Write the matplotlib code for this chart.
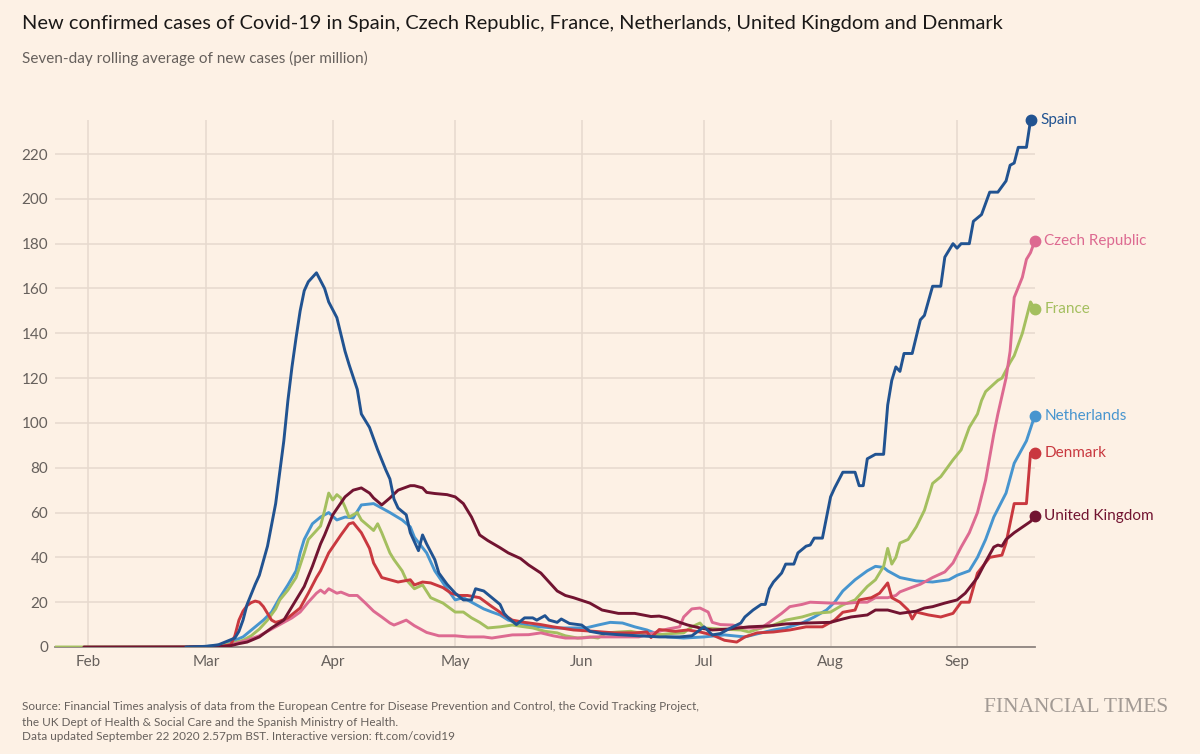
import matplotlib
matplotlib.use("Agg")
import matplotlib.pyplot as plt
import pandas as pd

# ---------------- data (7-day avg new cases per million) ----------------
spain_dates = ["02-25","03-01","03-04","03-06","03-08","03-09","03-10","03-11","03-13","03-14","03-16","03-18","03-20","03-21","03-22","03-23","03-24","03-25","03-26","03-28","03-30","03-31",
               "04-02","04-04","04-05","04-07","04-08","04-10","04-12","04-14","04-15","04-16","04-17","04-19","04-20","04-22","04-23","04-24","04-26","04-27","04-29",
               "05-01","05-03","05-05","05-06","05-08","05-10","05-12","05-13","05-14","05-16","05-18","05-20","05-21","05-23","05-24","05-26","05-27","05-29",
               "06-01","06-03","06-06","06-10","06-15","06-20","06-25","06-28","07-01","07-03","07-05","07-07","07-10","07-11","07-13","07-15","07-16","07-17","07-18",
               "07-20","07-21","07-23","07-24","07-26","07-27","07-28","07-30","08-01","08-02","08-04","08-07","08-08","08-09","08-10","08-12","08-14","08-15","08-16",
               "08-17","08-18","08-19","08-21","08-23","08-24","08-26","08-28","08-29","08-31","09-01","09-02","09-04","09-05","09-07","09-09","09-11","09-13","09-14",
               "09-15","09-16","09-18","09-19"]
spain_values = [0,0.3,1,2.5,4,7,12,19,28,32,45,64,92,110,125,138,150,159,163,167,160,154,
                147,132,126,115,104,98,88,79,75,66,62,59,51,43,50,46,39,33,28,
                24,21,21,26,25,22,19,15,13,10,13,13,12,14,12,11,12.5,10.5,
                9.8,7,6,5.5,5,4.5,4.5,5,9,5.4,6,8,10.7,13.4,16.5,19,19,26,29,
                33,37,37,42,45,45.5,48.6,48.6,67,71,78,78,72,72,84,86,86,108,119,
                125,123,131,131,146,148,161,161,174,180,178,180,180,190,193,203,203,208,215,
                216,223,223,235]

czech_dates = ["03-01","03-05","03-08","03-11","03-14","03-16","03-18","03-20","03-22","03-24","03-26","03-28","03-29","03-30","03-31",
               "04-01","04-02","04-03","04-05","04-07","04-09","04-11","04-13","04-15","04-16","04-17","04-19","04-21","04-24","04-27",
               "05-01","05-04","05-08","05-10","05-15","05-19","05-22","05-25","05-28","06-01","06-04","06-08","06-12","06-15","06-18",
               "06-22","06-25","06-26","06-28","06-30","07-02","07-03","07-05","07-08","07-11","07-15","07-17","07-20","07-22","07-25",
               "07-27","08-01","08-05","08-08","08-10","08-12","08-15","08-17","08-18","08-20","08-23","08-26","08-29","08-31",
               "09-02","09-04","09-06","09-08","09-10","09-11","09-13","09-14","09-15","09-17","09-18","09-19","09-20"]
czech_values = [0,0.3,1.5,3,5,7,9,11,13,15.6,20,24,25.4,24,26,
                25,24,24.5,23,23,19.6,16,13.4,10.7,9.8,10.5,12,9.5,6.5,5,
                5,4.5,4.5,4,5.4,5.5,6.3,5,4,4,4.5,4.5,4.5,4.5,6,
                8,9,13.4,17,17.4,15.6,11,10,9.8,8.5,8.5,11,15,18,19,
                20,19.6,19.5,20,20,22,22,23,24.6,26,28,31,33.5,37.5,
                44.6,51,60,74.5,95,104,120,132,156,165,173,176,181]

france_dates = ["01-24","02-25","03-01","03-04","03-07","03-10","03-12","03-14","03-16","03-18","03-19","03-21","03-23","03-25","03-26","03-28","03-29","03-30","03-31",
                "04-01","04-02","04-03","04-04","04-05","04-07","04-08","04-10","04-11","04-12","04-13","04-15","04-16","04-18","04-19","04-21","04-23","04-25","04-28",
                "05-01","05-03","05-05","05-07","05-09","05-12","05-15","05-18","05-20","05-23","05-26","05-28","05-31","06-03","06-05","06-07","06-10","06-13","06-16",
                "06-20","06-23","06-26","06-28","06-30","07-01","07-05","07-10","07-12","07-15","07-18","07-21","07-25","07-28","08-01","08-04","08-07","08-09","08-10",
                "08-12","08-14","08-15","08-16","08-17","08-18","08-20","08-22","08-24","08-26","08-28","08-31","09-02","09-04","09-06","09-07","09-08","09-11","09-12",
                "09-14","09-15","09-17","09-19","09-20"]
france_values = [0,0,0.2,0.5,1.5,3,5,8,12,17,21,25.4,31,42,48,52,54,61,68.7,
                 65.6,68,66.5,62.5,58,60,56.7,53.6,52,55,51,42,39,34,30,26,27.7,22,19.6,
                 15.6,15.6,13,11,8.5,9,9.8,9,8.5,7,6.3,5,4,4.5,4,6.3,6.7,7,6,
                 5.5,6,6.3,9,10.7,8.5,8,7.6,6.7,8.5,9.8,12,13.4,15,15.6,18.8,21,25,27,
                 30,36,44,37,40,46.4,48,53.6,61,73,76,83.5,88,98,104,110,114,119,120,
                 127,130,140,154,151]

neth_dates = ["02-27","03-03","03-06","03-08","03-10","03-13","03-15","03-17","03-19","03-21","03-23","03-24","03-25","03-27","03-29","03-31",
              "04-02","04-04","04-06","04-08","04-11","04-13","04-15","04-18","04-20","04-21","04-24","04-26","04-29",
              "05-01","05-03","05-05","05-08","05-10","05-12","05-14","05-17","05-19","05-22","05-25","05-28","06-02","06-05","06-08","06-11",
              "06-14","06-17","06-20","06-22","06-26","07-01","07-06","07-11","07-15","07-18","07-21","07-25","07-28","07-31",
              "08-02","08-04","08-07","08-10","08-12","08-14","08-15","08-18","08-22","08-26","08-30","09-01","09-04","09-06","09-08",
              "09-10","09-13","09-15","09-18","09-20"]
neth_values = [0,0.5,1.5,3,4.5,9,12,15.6,22,27.7,34,42,48,55,58,60,
               56.7,58,57.6,63.4,64,62,60,56.7,53.6,49,42,34,26,
               21,22,20,17,15.6,14.3,12,10.5,9.5,9,8.5,8.5,8.5,9.8,11,10.7,
               9,7.6,5.5,4.5,4,4.5,5.4,4.5,6.3,7.6,8.5,10.7,13.4,16.5,
               20,25,30,34,36,35.5,34,31,29.5,29,30,32,34,40,48,
               58,68.7,82,92,103]

denmark_dates = ["02-26","03-05","03-07","03-08","03-09","03-10","03-11","03-12","03-13","03-14","03-15","03-16","03-17","03-18","03-19","03-21","03-24","03-26","03-28","03-29","03-31",
                 "04-03","04-05","04-06","04-08","04-10","04-11","04-13","04-15","04-17","04-20","04-21","04-23","04-25","04-28","04-30",
                 "05-02","05-04","05-07","05-10","05-13","05-15","05-18","05-22","05-25","05-30","06-04","06-09","06-14","06-17","06-18","06-20",
                 "06-24","06-27","06-30","07-03","07-06","07-09","07-11","07-14","07-18","07-22","07-26","07-30","08-02","08-04","08-07","08-08",
                 "08-11","08-13","08-15","08-16","08-18","08-20","08-21","08-22","08-25","08-28","08-31","09-02","09-04","09-06","09-09","09-12",
                 "09-13","09-15","09-18","09-19","09-20"]
denmark_values = [0,0.3,1,5,12,16,18.5,19.8,20.5,20,18,15,12,11,11.5,13,17.4,24,31,34,42,
                  50,55,55.5,51,44,37.5,31,30,29,30,27.7,29,28.6,26.5,24,
                  23,23,22,18,14.3,12,11,10,9,7.6,7,6.3,6.3,6.7,4.2,7.8,
                  7,7.6,6.7,5.4,3,2.2,4.5,6.3,6.7,7.6,9,9,12,15.5,16.5,21,
                  22,24,28.6,22,20,16.5,12.5,15.6,14.3,13.4,15,20,20,33,40,41,
                  46.4,64,64,86.6,86.6]

uk_dates = ["01-31","03-01","03-05","03-07","03-09","03-11","03-14","03-17","03-20","03-22","03-25","03-27","03-29","03-30",
            "04-01","04-04","04-06","04-08","04-10","04-11","04-13","04-15","04-17","04-20","04-21","04-23","04-24","04-26","04-29",
            "05-01","05-03","05-05","05-07","05-09","05-12","05-14","05-17","05-19","05-22","05-23","05-26","05-28","05-30",
            "06-03","06-06","06-10","06-14","06-18","06-20","06-22","06-25","06-27","06-30","07-03","07-07","07-12","07-17","07-21","07-26",
            "08-01","08-04","08-06","08-10","08-12","08-15","08-18","08-22","08-24","08-26","08-29","09-01","09-03","09-06","09-08",
            "09-10","09-11","09-12","09-13","09-15","09-17","09-19","09-20"]
uk_values = [0,0.1,0.3,0.6,1.5,2.2,4.5,8.5,12,18,27,36,46,50,
             59,67,70,71,68.7,66.5,63.4,66.5,70,72,72,71,69,68.5,68,
             67,64,58,50,47.5,44.3,42,39.5,36.6,33,31,25,23,22,
             19.6,16.5,15,15,13.6,13.8,13,11,9.8,8.5,7.6,8,9,9.4,10.3,10.7,
             11,12.5,13.4,14.3,16.5,16.5,15,16,17.4,18,19.6,21,24,31,38,
             44.6,45.5,45,48,51,53.5,56,58.5]

series_names = ["Netherlands", "France", "Czech Republic", "Denmark", "United Kingdom", "Spain"]
y_ticks = list(range(0, 221, 20))
month_ticks = ["2020-02-01","2020-03-01","2020-04-01","2020-05-01","2020-06-01","2020-07-01","2020-08-01","2020-09-01"]
month_labels = ["Feb","Mar","Apr","May","Jun","Jul","Aug","Sep"]

title = "New confirmed cases of Covid-19 in Spain, Czech Republic, France, Netherlands, United Kingdom and Denmark"
subtitle = "Seven-day rolling average of new cases (per million)"
source_lines = ["Source: Financial Times analysis of data from the European Centre for Disease Prevention and Control, the Covid Tracking Project,",
                "the UK Dept of Health & Social Care and the Spanish Ministry of Health.",
                "Data updated September 22 2020 2.57pm BST. Interactive version: ft.com/covid19"]

# ---------------- styling ----------------
BG = "#FDF1E5"
GRID = "#E6D9CE"
GREY = "#66605C"
FONT = "Lato"

colors = {"Spain": "#215391", "Czech Republic": "#DD6A91", "France": "#A4BF5F",
          "Netherlands": "#4795CF", "Denmark": "#C9383F", "United Kingdom": "#721431"}

data = {
    "Spain": (spain_dates, spain_values),
    "Czech Republic": (czech_dates, czech_values),
    "France": (france_dates, france_values),
    "Netherlands": (neth_dates, neth_values),
    "Denmark": (denmark_dates, denmark_values),
    "United Kingdom": (uk_dates, uk_values),
}

def to_dt(md):
    return pd.to_datetime(["2020-" + s for s in md])

W, H = 1200, 754
fig = plt.figure(figsize=(W / 100, H / 100), dpi=100, facecolor=BG)
ax = fig.add_axes([55 / W, 1 - 647 / H, (1035 - 55) / W, (647 - 120) / H])
ax.set_facecolor(BG)

for name in series_names:
    d, v = data[name]
    dt = to_dt(d)
    c = colors[name]
    ax.plot(dt, v, color=c, lw=2.1, solid_joinstyle="round", solid_capstyle="round", zorder=3)
    ax.plot(dt[-1:], v[-1:], "o", color=c, ms=7.5, zorder=4, clip_on=False)
    ax.annotate(name, (dt[-1], v[-1]), xytext=(7, 0), textcoords="offset points",
                va="center", ha="left", color=c, fontsize=11, family=FONT,
                annotation_clip=False)

x0 = pd.Timestamp("2020-02-01") - pd.Timedelta(days=8.08)
x1 = pd.Timestamp("2020-09-20") + pd.Timedelta(days=0.1)
ax.set_xlim(x0, x1)
ax.set_ylim(0, 235.2)

ax.set_yticks(y_ticks)
ax.set_yticklabels([str(t) for t in y_ticks])
ax.set_xticks(pd.to_datetime(month_ticks))
ax.set_xticklabels(month_labels)
ax.tick_params(axis="both", length=0, colors=GREY, labelsize=11)
ax.tick_params(axis="y", pad=5)
ax.tick_params(axis="x", pad=6)
for lab in ax.get_xticklabels() + ax.get_yticklabels():
    lab.set_family(FONT)

ax.grid(True, color=GRID, lw=1.1, zorder=0)
ax.set_axisbelow(True)
for s in ["top", "right", "left"]:
    ax.spines[s].set_visible(False)
ax.spines["bottom"].set_color("#8E8580")
ax.spines["bottom"].set_linewidth(1.3)
ax.spines["bottom"].set_zorder(2)

# ---------------- texts ----------------
fig.canvas.draw()
renderer = fig.canvas.get_renderer()

def fitted_text(x, y, s, target_w, size, **kw):
    t = fig.text(x / W, 1 - y / H, s, fontsize=size, family=FONT, va="center", ha="left", **kw)
    w = t.get_window_extent(renderer=renderer).width
    t.set_fontsize(size * target_w / w)
    return t

fitted_text(22, 23, title, 983, 15, color="#1A1817")
fitted_text(22, 58, subtitle, 348, 10.5, color=GREY)
st = fitted_text(22, 707, source_lines[0], 675, 8, color=GREY)
fs = st.get_fontsize()
fig.text(22 / W, 1 - 722 / H, source_lines[1], fontsize=fs, family=FONT, va="center", ha="left", color=GREY)
fig.text(22 / W, 1 - 737 / H, source_lines[2], fontsize=fs, family=FONT, va="center", ha="left", color=GREY)
fig.text(1168 / W, 1 - 708 / H, "FINANCIAL TIMES", fontsize=15.5, family="Liberation Serif",
         va="center", ha="right", color="#A29A94")

fig.savefig("out.png", dpi=100, facecolor=BG)
